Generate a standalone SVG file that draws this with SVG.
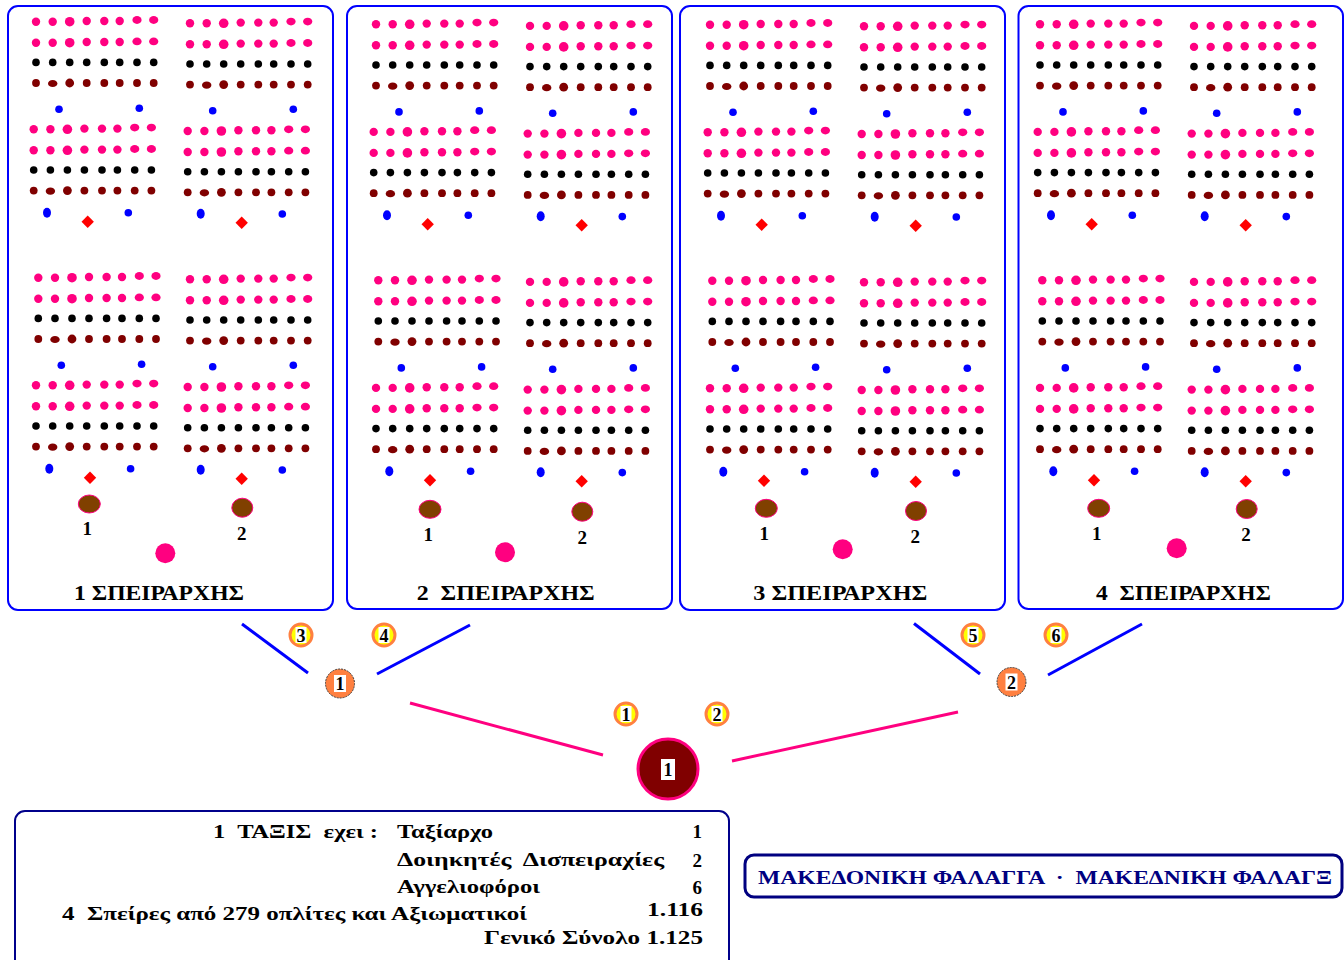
<svg xmlns="http://www.w3.org/2000/svg" xmlns:xlink="http://www.w3.org/1999/xlink" width="1344" height="960" viewBox="0 0 1344 960">
<style>
.pk{fill:#ff0080}.bk{fill:#000}.mr{fill:#800000}.bl{fill:#0000ff}.rd{fill:#ff0000}
.panel{fill:#fff;stroke:#0000ff;stroke-width:2}
.t{font-family:"Liberation Serif","DejaVu Serif",serif;font-weight:bold;fill:#000;white-space:pre}
.ttl{font-size:21px}
.lab{font-size:19px;text-anchor:middle}
.box{font-size:19px}
.brown{fill:#804000;stroke:#ff0080;stroke-width:1}
.pc{fill:#ff0080}
.bline{stroke:#0000ff;stroke-width:3;fill:none}
.pline{stroke:#ff0080;stroke-width:3;fill:none}
.sb{fill:#ffff00;stroke:#ff8040;stroke-width:3}
.bb{fill:#ff8040;stroke:#404040;stroke-width:1;stroke-dasharray:2 1}
.wr{fill:#fff}
.num{font-family:"Liberation Serif","DejaVu Serif",serif;font-weight:bold;font-size:18px;text-anchor:middle;fill:#000}
</style>
<defs>
<g id="block">
<circle class="pk" cx="0" cy="0" r="4.2"/><circle class="pk" cx="16.7" cy="0" r="4.2"/><circle class="pk" cx="33.7" cy="0" r="4.8"/><circle class="pk" cx="50.7" cy="-0.7" r="4.2"/><circle class="pk" cx="68.3" cy="-0.7" r="4.2"/><circle class="pk" cx="83.7" cy="-0.7" r="4.2"/><ellipse class="pk" cx="101" cy="-1.7" rx="4.6" ry="3.9"/><ellipse class="pk" cx="117.7" cy="-1.7" rx="4.6" ry="3.9"/>
<circle class="pk" cx="0" cy="21" r="4.2"/><circle class="pk" cx="16.7" cy="21" r="4.2"/><circle class="pk" cx="33.7" cy="21" r="4.8"/><circle class="pk" cx="50.7" cy="20.3" r="4.2"/><circle class="pk" cx="68.3" cy="20.3" r="4.2"/><circle class="pk" cx="83.7" cy="20.3" r="4.2"/><ellipse class="pk" cx="101" cy="19.7" rx="4.6" ry="3.9"/><ellipse class="pk" cx="117.7" cy="19.7" rx="4.6" ry="3.9"/>
<circle class="bk" cx="0" cy="40.7" r="3.8"/><circle class="bk" cx="16.7" cy="40.7" r="3.8"/><circle class="bk" cx="33.7" cy="40.7" r="3.8"/><circle class="bk" cx="50.7" cy="40.7" r="3.8"/><circle class="bk" cx="68.3" cy="40.7" r="3.8"/><circle class="bk" cx="83.7" cy="40.7" r="3.8"/><circle class="bk" cx="101" cy="40.7" r="3.8"/><circle class="bk" cx="117.7" cy="40.7" r="3.8"/>
<circle class="mr" cx="0" cy="61.3" r="3.9"/><ellipse class="mr" cx="16.7" cy="61.8" rx="4.7" ry="3.6"/><circle class="mr" cx="33.7" cy="61.3" r="4.4"/><circle class="mr" cx="50.7" cy="61.3" r="3.9"/><circle class="mr" cx="68.3" cy="61.3" r="3.9"/><circle class="mr" cx="83.7" cy="61.3" r="3.9"/><circle class="mr" cx="101" cy="61.3" r="3.9"/><circle class="mr" cx="117.7" cy="61.3" r="3.9"/>
</g>
<g id="halfL">
<use xlink:href="#block" href="#block" x="36" y="21.7"/>
<use xlink:href="#block" href="#block" x="33.7" y="129.3"/>
<circle class="bl" cx="59" cy="109.3" r="3.8"/><circle class="bl" cx="139.3" cy="108.3" r="3.8"/>
<ellipse class="bl" cx="47" cy="212.7" rx="4" ry="5"/><circle class="bl" cx="128.3" cy="212.7" r="3.8"/>
<polygon class="rd" points="87.7,215.5 93.9,221.7 87.7,227.9 81.5,221.7"/>
</g>
<g id="halfR">
<use xlink:href="#block" href="#block" x="190" y="23.3"/>
<use xlink:href="#block" href="#block" x="187.7" y="131"/>
<circle class="bl" cx="212.7" cy="110.7" r="3.8"/><circle class="bl" cx="293.3" cy="109.3" r="3.8"/>
<ellipse class="bl" cx="200.7" cy="213.7" rx="4" ry="5"/><circle class="bl" cx="282.3" cy="214" r="3.8"/>
<polygon class="rd" points="241.7,216.5 247.9,222.7 241.7,228.9 235.5,222.7"/>
</g>
<g id="army">
<use xlink:href="#halfL" href="#halfL"/>
<use xlink:href="#halfR" href="#halfR"/>
<use xlink:href="#halfL" href="#halfL" x="2.3" y="256"/>
<use xlink:href="#halfR" href="#halfR" x="0" y="256"/>
</g>
</defs>
<rect width="1344" height="960" fill="#fff"/>

<g id="panel1">
<rect class="panel" x="8" y="6" width="325" height="604" rx="10"/>
<use xlink:href="#army" href="#army"/>
<ellipse class="brown" cx="89.3" cy="504" rx="11" ry="9"/>
<ellipse class="brown" cx="242.3" cy="507.7" rx="10.5" ry="9.5"/>
<text class="t lab" x="87.3" y="535">1</text>
<text class="t lab" x="241.7" y="539.5">2</text>
<circle class="pc" cx="165.3" cy="553.3" r="10"/>
<text class="t ttl" x="74" y="600" textLength="170" lengthAdjust="spacingAndGlyphs">1 ΣΠΕΙΡΑΡΧΗΣ</text>
</g>

<g id="panel2">
<rect class="panel" x="347" y="6" width="325" height="603" rx="10"/>
<use xlink:href="#army" href="#army" x="340" y="2.6"/>
<ellipse class="brown" cx="430" cy="509.3" rx="11" ry="9"/>
<ellipse class="brown" cx="582.3" cy="511.7" rx="10.5" ry="9.5"/>
<text class="t lab" x="428.3" y="540.5">1</text>
<text class="t lab" x="582.3" y="544">2</text>
<circle class="pc" cx="505" cy="552.3" r="10"/>
<text class="t ttl" x="416.7" y="600" textLength="178" lengthAdjust="spacingAndGlyphs">2  ΣΠΕΙΡΑΡΧΗΣ</text>
</g>

<g id="panel3">
<rect class="panel" x="680" y="6" width="325" height="604" rx="10"/>
<use xlink:href="#army" href="#army" x="674" y="3"/>
<ellipse class="brown" cx="766.3" cy="508.3" rx="11" ry="9"/>
<ellipse class="brown" cx="916" cy="511" rx="10.5" ry="9.5"/>
<text class="t lab" x="764.3" y="540">1</text>
<text class="t lab" x="915.3" y="543">2</text>
<circle class="pc" cx="842.7" cy="549.3" r="10"/>
<text class="t ttl" x="753.3" y="600" textLength="174" lengthAdjust="spacingAndGlyphs">3 ΣΠΕΙΡΑΡΧΗΣ</text>
</g>

<g id="panel4">
<rect class="panel" x="1018.5" y="6" width="324.5" height="603" rx="10"/>
<use xlink:href="#army" href="#army" x="1004" y="2.6"/>
<ellipse class="brown" cx="1098.7" cy="508.3" rx="11" ry="9"/>
<ellipse class="brown" cx="1246.7" cy="509" rx="10.5" ry="9.5"/>
<text class="t lab" x="1096.7" y="539.5">1</text>
<text class="t lab" x="1246" y="540.5">2</text>
<circle class="pc" cx="1176.7" cy="548.3" r="10"/>
<text class="t ttl" x="1096" y="600" textLength="175" lengthAdjust="spacingAndGlyphs">4  ΣΠΕΙΡΑΡΧΗΣ</text>
</g>

<g id="connectors">
<line class="bline" x1="242" y1="624" x2="308" y2="673"/>
<line class="bline" x1="470" y1="625" x2="377" y2="674"/>
<line class="bline" x1="914" y1="623.5" x2="980" y2="674"/>
<line class="bline" x1="1142" y1="624" x2="1048" y2="675"/>
<line class="pline" x1="410" y1="703" x2="603" y2="755"/>
<line class="pline" x1="732" y1="761" x2="958" y2="712"/>
</g>

<g id="badge3"><circle class="sb" cx="301" cy="635" r="11"/><rect class="wr" x="295.5" y="627" width="11" height="16"/><text class="num" x="301" y="641.5">3</text></g>
<g id="badge4"><circle class="sb" cx="384" cy="635" r="11"/><rect class="wr" x="378.5" y="627" width="11" height="16"/><text class="num" x="384" y="641.5">4</text></g>
<g id="badge5"><circle class="sb" cx="973" cy="635" r="11"/><rect class="wr" x="967.5" y="627" width="11" height="16"/><text class="num" x="973" y="641.5">5</text></g>
<g id="badge6"><circle class="sb" cx="1056" cy="635" r="11"/><rect class="wr" x="1050.5" y="627" width="11" height="16"/><text class="num" x="1056" y="641.5">6</text></g>
<g id="badgeA1"><circle class="sb" cx="626" cy="714" r="11"/><rect class="wr" x="620.5" y="706" width="11" height="16"/><text class="num" x="626" y="720.5">1</text></g>
<g id="badgeA2"><circle class="sb" cx="717" cy="714" r="11"/><rect class="wr" x="711.5" y="706" width="11" height="16"/><text class="num" x="717" y="720.5">2</text></g>

<g id="dis1"><circle class="bb" cx="340" cy="683.5" r="14.5"/><rect class="wr" x="334" y="675" width="12" height="17"/><text class="num" x="340" y="690">1</text></g>
<g id="dis2"><circle class="bb" cx="1011.5" cy="682" r="14.5"/><rect class="wr" x="1005.5" y="673.5" width="12" height="17"/><text class="num" x="1011.5" y="688.5">2</text></g>

<g id="taxis"><circle cx="668" cy="769" r="30" fill="#800000" stroke="#ff0080" stroke-width="3"/><rect class="wr" x="661" y="759" width="14" height="21"/><text class="num" x="668" y="776" font-size="20">1</text></g>

<g id="summary">
<rect x="15" y="811" width="714" height="160" rx="10" fill="#fff" stroke="#00008b" stroke-width="2"/>
<text class="t box" x="213" y="838" textLength="165" lengthAdjust="spacingAndGlyphs">1  ΤΑΞΙΣ  εχει :</text>
<text class="t box" x="397" y="838" textLength="96" lengthAdjust="spacingAndGlyphs">Ταξίαρχο</text>
<text class="t box" x="702" y="838" text-anchor="end">1</text>
<text class="t box" x="397" y="866" textLength="267" lengthAdjust="spacingAndGlyphs">Δοιηκητές  Δισπειραχίες</text>
<text class="t box" x="702" y="867" text-anchor="end">2</text>
<text class="t box" x="397" y="893" textLength="143" lengthAdjust="spacingAndGlyphs">Αγγελιοφόροι</text>
<text class="t box" x="702" y="894" text-anchor="end">6</text>
<text class="t box" x="62" y="920" textLength="465" lengthAdjust="spacingAndGlyphs">4  Σπείρες από 279 οπλίτες και Αξιωματικοί</text>
<text class="t box" x="647" y="916" textLength="56" lengthAdjust="spacingAndGlyphs">1.116</text>
<text class="t box" x="484" y="944" textLength="219" lengthAdjust="spacingAndGlyphs">Γενικό Σύνολο 1.125</text>
</g>

<g id="title">
<rect x="745" y="855" width="597" height="42" rx="9" fill="#fff" stroke="#000080" stroke-width="3"/>
<text class="t box" x="758" y="884" style="fill:#000080" textLength="574" lengthAdjust="spacingAndGlyphs">ΜΑΚΕΔΟΝΙΚΗ ΦΑΛΑΓΓΑ  ·  ΜΑΚΕΔΝΙΚΗ ΦΑΛΑΓΞ</text>
</g>
</svg>
